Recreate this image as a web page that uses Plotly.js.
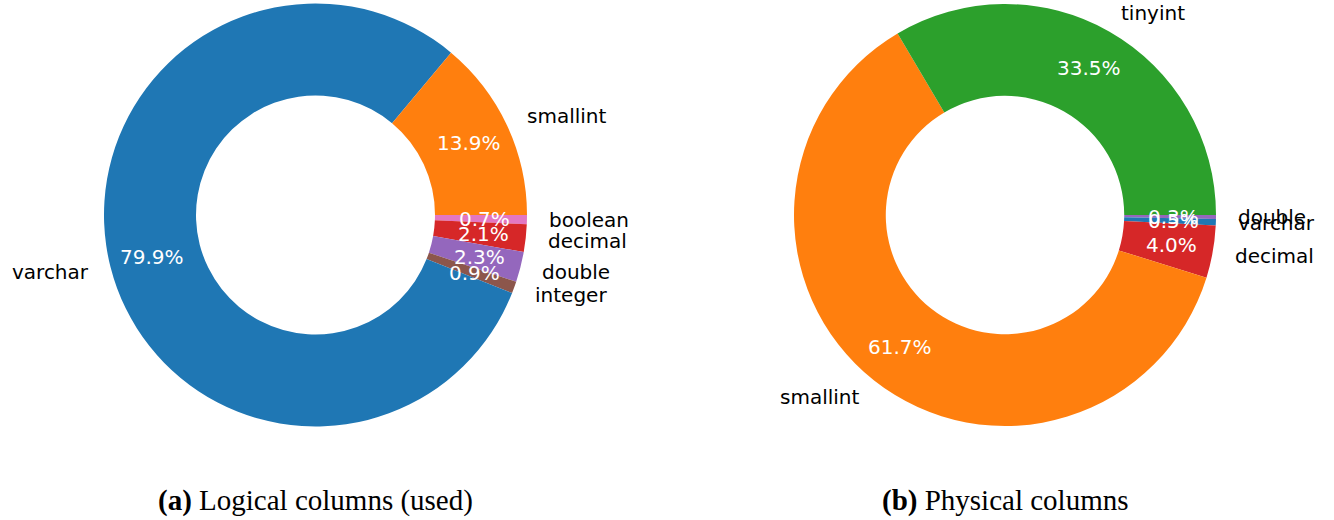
<!DOCTYPE html>
<html>
<head>
<meta charset="utf-8">
<script src="https://cdn.plot.ly/plotly-3.0.1.min.js"></script>
<style>html,body{margin:0;padding:0;background:#fff;}#chart{width:1334px;height:520px;}</style>
</head>
<body>
<div id="chart"></div>
<script>
// Data (a) Logical columns (used) — clockwise from 3 o'clock
var logicalLabels = ["boolean", "decimal", "double", "integer", "varchar", "smallint"];
var logicalValues = [0.7, 2.1, 2.3, 0.9, 79.9, 13.9];
var logicalColors = ["#e377c2", "#d62728", "#9467bd", "#8c564b", "#1f77b4", "#ff7f0e"];

// Data (b) Physical columns — clockwise from 3 o'clock
var physicalLabels = ["double", "varchar", "decimal", "smallint", "tinyint"];
var physicalValues = [0.3, 0.5, 4.0, 61.7, 33.5];
var physicalColors = ["#9467bd", "#1f77b4", "#d62728", "#ff7f0e", "#2ca02c"];

var captionA = "<b>(a)</b> Logical columns (used)";
var captionB = "<b>(b)</b> Physical columns";

var W = 1334, H = 520;
var HOLE = 0.565, PCTDIST = 0.8, LABELDIST = 1.1;
var pies = [
  {labels: logicalLabels, values: logicalValues, colors: logicalColors, cx: 315.5, cy: 215, r: 211.5, caption: captionA},
  {labels: physicalLabels, values: physicalValues, colors: physicalColors, cx: 1005, cy: 215, r: 211, caption: captionB}
];

var traces = [];
var annotations = [];
pies.forEach(function (p) {
  traces.push({
    type: "pie",
    labels: p.labels,
    values: p.values,
    sort: false,
    direction: "clockwise",
    rotation: 90,
    hole: HOLE,
    textinfo: "none",
    hoverinfo: "label+percent",
    showlegend: false,
    marker: {colors: p.colors, line: {width: 0}},
    domain: {
      x: [(p.cx - p.r) / W, (p.cx + p.r) / W],
      y: [1 - (p.cy + p.r) / H, 1 - (p.cy - p.r) / H]
    }
  });
  var total = p.values.reduce(function (a, b) { return a + b; }, 0);
  var cum = 0;
  p.values.forEach(function (v, i) {
    var mid = -(cum + v / 2) / total * 2 * Math.PI;
    cum += v;
    var c = Math.cos(mid), s = Math.sin(mid);
    annotations.push({
      xref: "paper", yref: "paper",
      x: (p.cx + p.r * LABELDIST * c) / W,
      y: 1 - (p.cy - p.r * LABELDIST * s) / H,
      text: p.labels[i],
      showarrow: false,
      borderpad: 0,
      xanchor: c > 0 ? "left" : "right",
      yanchor: "middle",
      font: {family: "DejaVu Sans", size: 20, color: "#000"}
    });
    annotations.push({
      xref: "paper", yref: "paper",
      x: (p.cx + p.r * PCTDIST * c) / W,
      y: 1 - (p.cy - p.r * PCTDIST * s) / H,
      text: v.toFixed(1) + "%",
      showarrow: false,
      borderpad: 0,
      xanchor: "center",
      yanchor: "middle",
      font: {family: "DejaVu Sans", size: 20, color: "#fff"}
    });
  });
  annotations.push({
    xref: "paper", yref: "paper",
    x: p.cx / W, y: 1 - 500 / H,
    text: p.caption,
    showarrow: false,
    xanchor: "center", yanchor: "middle",
    font: {family: "Liberation Serif", size: 29, color: "#000"}
  });
});

var layout = {
  width: W, height: H,
  margin: {l: 0, r: 0, t: 0, b: 0},
  paper_bgcolor: "#fff",
  plot_bgcolor: "#fff",
  showlegend: false,
  annotations: annotations
};
Plotly.newPlot("chart", traces, layout, {displayModeBar: false, staticPlot: true});
</script>
</body>
</html>
